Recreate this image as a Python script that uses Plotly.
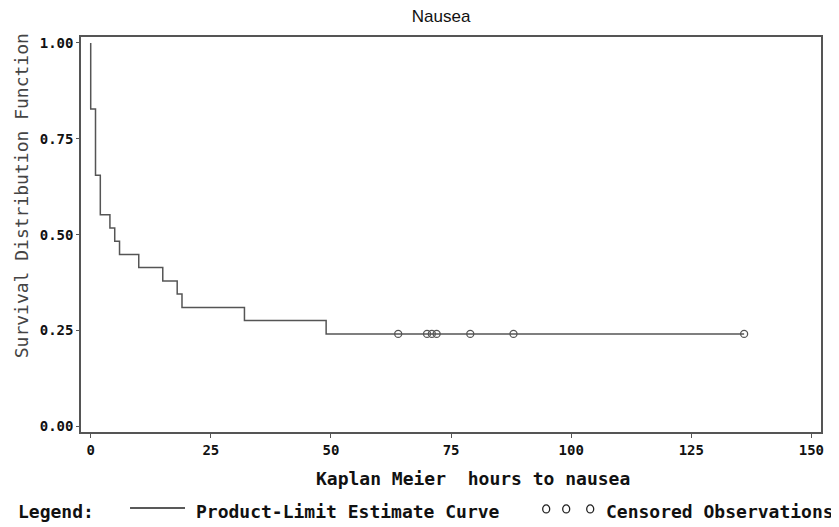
import plotly.graph_objects as go

# ---- data ----
event_times = [0, 0, 1, 2, 4, 5, 6, 10, 15, 18, 19, 32, 49, 136]
survival = [1.0, 0.828, 0.655, 0.552, 0.517, 0.483, 0.448, 0.414, 0.379,
            0.345, 0.310, 0.276, 0.241, 0.241]
censored_times = [64, 70, 71, 72, 79, 88, 136]
censored_surv = [0.241, 0.241, 0.241, 0.241, 0.241, 0.241, 0.241]
x_ticks = [0, 25, 50, 75, 100, 125, 150]
y_ticks = [0.0, 0.25, 0.5, 0.75, 1.0]
y_tick_labels = ["0.00", "0.25", "0.50", "0.75", "1.00"]

# the page body has an 8px default margin; shift the figure accordingly
OFF = 8
W, H = 839 - OFF, 527 - OFF
L, R, T, B = 81 - OFF, 820.7 - OFF, 36.5 - OFF, 432.0 - OFF

def px(x):
    return (x - OFF - L) / (R - L)

def py(y):
    return (B - (y - OFF)) / (B - T)

GRAY = "#555555"
MONO = "DejaVu Sans Mono"

fig = go.Figure()
fig.add_trace(go.Scatter(
    x=event_times, y=survival, mode="lines", line_shape="hv",
    line=dict(color=GRAY, width=1.5), showlegend=False, hoverinfo="skip"))
fig.add_trace(go.Scatter(
    x=censored_times, y=censored_surv, mode="markers",
    marker=dict(symbol="circle-open", size=7, color=GRAY, line=dict(width=1.3, color=GRAY)),
    showlegend=False, hoverinfo="skip"))

axis_common = dict(showline=True, mirror=True, linecolor=GRAY, linewidth=1.5,
                   showgrid=False, zeroline=False, ticks="outside",
                   tickcolor=GRAY, tickwidth=1.2,
                   tickfont=dict(family=MONO, size=14, color="#111", weight="bold"))

fig.update_layout(
    width=W, height=H, autosize=False,
    margin=dict(l=L, r=W - R, t=T, b=H - B, pad=0, autoexpand=False),
    plot_bgcolor="white", paper_bgcolor="white",
    title=dict(text="Nausea", xref="paper", x=px(441), xanchor="center",
               yref="container", y=1 - (16 - OFF) / H, yanchor="middle",
               font=dict(family="Liberation Sans", size=17, color="#111")),
    xaxis=dict(range=[-2.02, 152.0], tickvals=x_ticks, ticklen=4, **axis_common),
    yaxis=dict(range=[-0.0149, 1.0156], tickvals=y_ticks, ticktext=y_tick_labels,
               ticklen=3, **axis_common),
)

annotations = [
    dict(text="Survival Distribution Function", x=px(21), y=py(195), textangle=-90,
         font=dict(family=MONO, size=18, color="#444")),
    dict(text="Kaplan Meier  hours to nausea", x=px(473), y=py(479),
         font=dict(family=MONO, size=18, color="#111", weight="bold")),
    dict(text="Legend:", x=px(16), y=py(512), xanchor="left",
         font=dict(family=MONO, size=18, color="#111", weight="bold")),
    dict(text="Product-Limit Estimate Curve", x=px(194), y=py(512), xanchor="left",
         font=dict(family=MONO, size=18, color="#111", weight="bold")),
    dict(text="Censored Observations", x=px(604), y=py(512), xanchor="left",
         font=dict(family=MONO, size=18, color="#111", weight="bold")),
]
for a in annotations:
    a.setdefault("xanchor", "center")
    a.update(xref="paper", yref="paper", showarrow=False, yanchor="middle")
fig.update_layout(annotations=annotations)

shapes = [dict(type="line", xref="paper", yref="paper",
               x0=px(130), x1=px(185), y0=py(508), y1=py(508),
               line=dict(color="#222", width=1.5))]
for cx in [546, 566, 590]:
    shapes.append(dict(type="circle", xref="paper", yref="paper",
                       x0=px(cx - 3.5), x1=px(cx + 3.5), y0=py(505), y1=py(513),
                       line=dict(color="#222", width=1.3)))
fig.update_layout(shapes=shapes)

fig.write_html("out.html")
